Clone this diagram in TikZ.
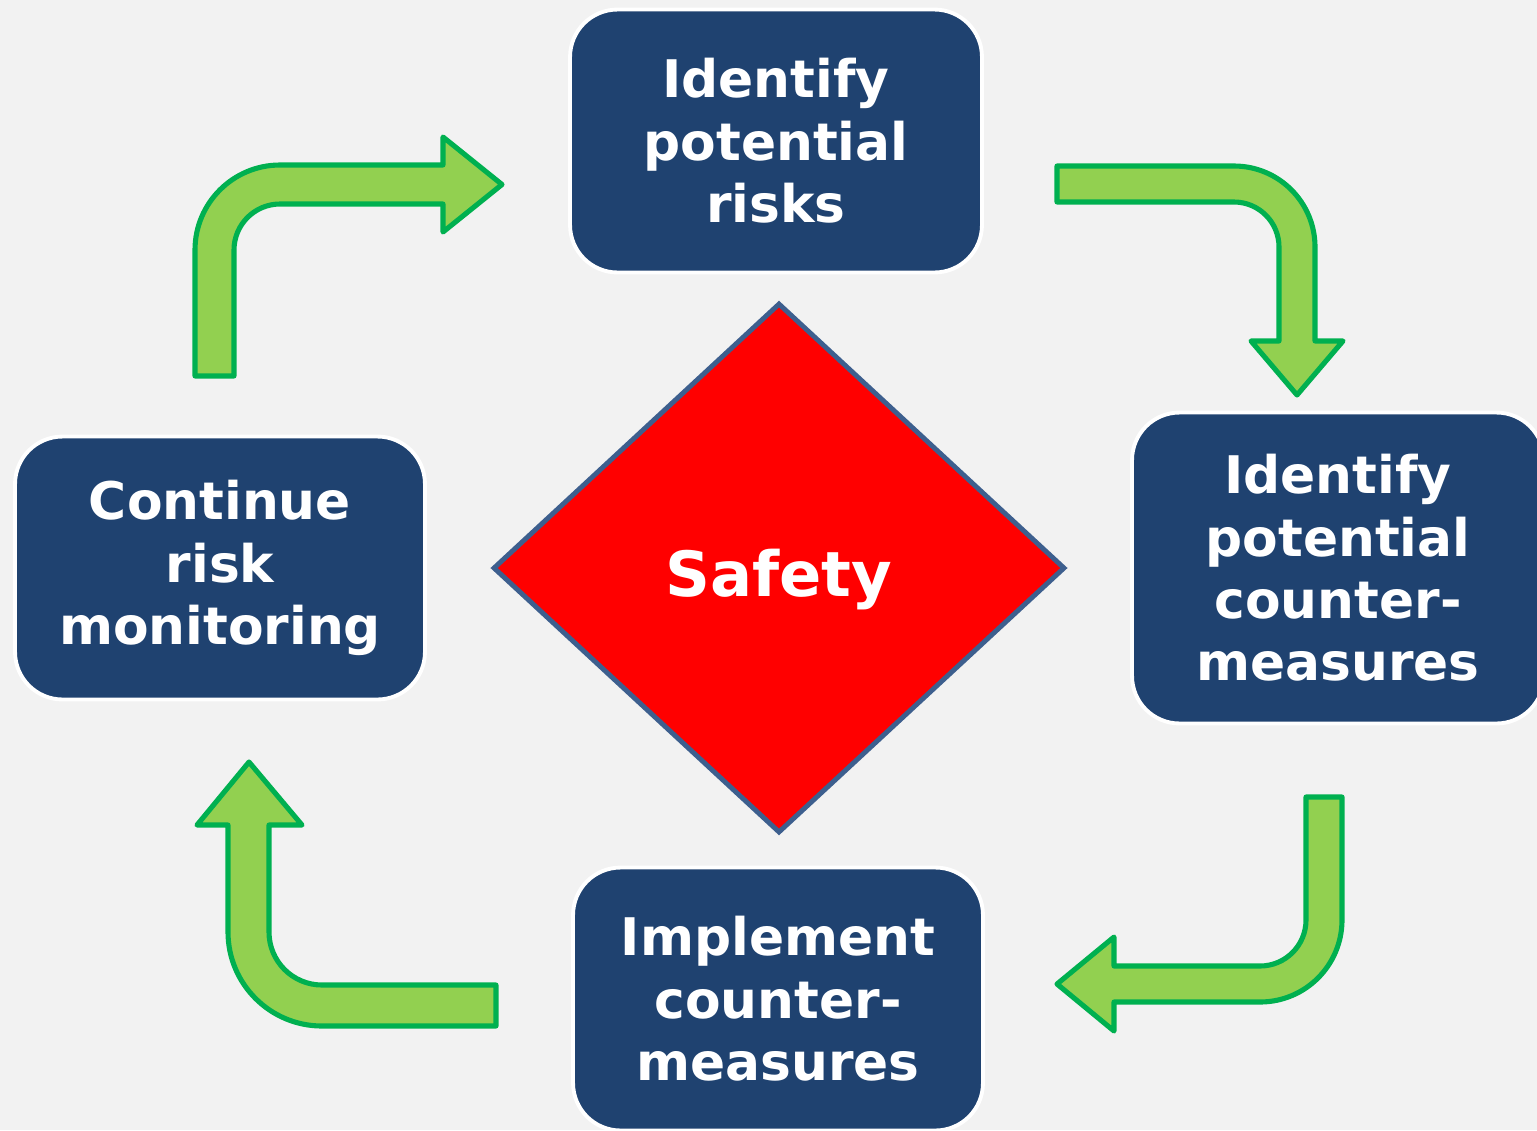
\documentclass[tikz,border=0pt]{standalone}
\usepackage{fontspec}
\usetikzlibrary{shapes.geometric}
\newfontfamily\boxfont{DejaVu Sans}
\definecolor{bgcol}{HTML}{F2F2F2}
\definecolor{boxblue}{HTML}{1F4270}
\definecolor{arrowfill}{HTML}{92D050}
\definecolor{arrowline}{HTML}{00B050}
\definecolor{diamondline}{HTML}{3D5F8E}

\begin{document}
\begin{tikzpicture}[x=0.02cm,y=-0.02cm,
    stepbox/.style={rectangle, rounded corners=0.95cm, fill=boxblue, draw=white,
      line width=2.2pt, text=white, align=center,
      font=\boxfont\bfseries\fontsize{29.5}{35.5}\selectfont},
    bentarrow/.style={fill=arrowfill, draw=arrowline, line width=2.9pt, line join=round},
    safetyshape/.style={diamond, fill=red, draw=diamondline, line width=2.8pt,
      inner sep=0pt, minimum width=11.44cm, minimum height=10.6cm, text=white,
      text height=41pt, text depth=8.4pt,
      font=\boxfont\bfseries\fontsize{35.5}{40}\selectfont}]
  \fill[bgcol] (0,0) rectangle (1537,1130);
  \useasboundingbox (0,0) rectangle (1537,1130);
  \clip (0,0) rectangle (1537,1130);

  % boxes
  \node[stepbox, minimum width=8.24cm, minimum height=5.26cm] (risks) at (776,141) {Identify\\potential\\risks};
  \node[stepbox, minimum width=8.24cm, minimum height=6.22cm] (counter) at (1338,568) {Identify\\potential\\counter-\\measures};
  \node[stepbox, minimum width=8.2cm, minimum height=5.26cm] (implement) at (778,999) {Implement\\counter-\\measures};
  \node[stepbox, minimum width=8.2cm, minimum height=5.26cm] (monitor) at (220,568) {Continue\\risk\\monitoring};

  % centre
  \node[safetyshape] (safety) at (779,568) {Safety};

  % arrows
  \draw[bentarrow] (195,376) -- (195,250) arc[start angle=180, end angle=270, radius=85]
    -- (443,165) -- (443,137) -- (502,184.5) -- (443,232) -- (443,204) -- (280,204)
    arc[start angle=270, end angle=180, radius=46] -- (234,376) -- cycle;
  \draw[bentarrow] (1057,166) -- (1234,166) arc[start angle=270, end angle=360, radius=81]
    -- (1315,341) -- (1343,341) -- (1297,395) -- (1251,341) -- (1279,341) -- (1279,247)
    arc[start angle=0, end angle=-90, radius=45] -- (1057,202) -- cycle;
  \draw[bentarrow] (1342,797) -- (1342,920) arc[start angle=0, end angle=90, radius=82]
    -- (1114,1002) -- (1114,1031) -- (1057,984) -- (1114,937) -- (1114,966) -- (1260,966)
    arc[start angle=90, end angle=0, radius=46] -- (1306,797) -- cycle;
  \draw[bentarrow] (496,1026) -- (322,1026) arc[start angle=90, end angle=180, radius=94]
    -- (228,825) -- (197,825) -- (249,762) -- (302,825) -- (269,825) -- (269,932)
    arc[start angle=180, end angle=90, radius=53] -- (496,985) -- cycle;
\end{tikzpicture}
\end{document}
